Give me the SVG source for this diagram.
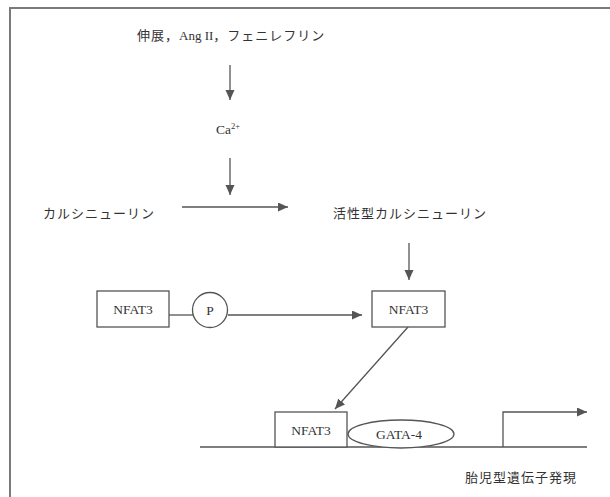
<svg xmlns="http://www.w3.org/2000/svg" width="610" height="497" viewBox="0 0 610 497">
<style>
.ln{stroke:#555;stroke-width:1.3;fill:none}
.box{stroke:#555;stroke-width:1.3;fill:#fff}
.jp{font-family:"Noto Sans CJK JP","Noto Sans",sans-serif;font-size:13px;fill:#333;letter-spacing:1px}
.sf{font-family:"Liberation Serif",serif;font-size:13.5px;fill:#333;letter-spacing:0}
.frame{stroke:#7a7a7a;stroke-width:2;fill:none}
</style>
<defs>
<marker id="ah" markerUnits="userSpaceOnUse" markerWidth="12" markerHeight="10" refX="10" refY="4.5" orient="auto">
<path d="M0,0 L10,4.5 L0,9 z" fill="#555"/>
</marker>
</defs>
<rect width="610" height="497" fill="#fff"/>
<path class="frame" d="M10,497 L10,8 L610,8"/>
<g id="connectors">
<line class="ln" x1="230" y1="65" x2="230" y2="100" marker-end="url(#ah)"/>
<line class="ln" x1="230" y1="158" x2="230" y2="195" marker-end="url(#ah)"/>
<line class="ln" x1="182" y1="207" x2="288" y2="207" marker-end="url(#ah)"/>
<line class="ln" x1="409" y1="243" x2="409" y2="280" marker-end="url(#ah)"/>
<line class="ln" x1="169" y1="315" x2="193" y2="315"/>
<line class="ln" x1="228" y1="315" x2="362" y2="315" marker-end="url(#ah)"/>
<line class="ln" x1="408" y1="327" x2="335" y2="409" marker-end="url(#ah)"/>
<line class="ln" x1="200" y1="447" x2="587" y2="447"/>
<polyline class="ln" points="503,447 503,412 587,412" marker-end="url(#ah)"/>
</g>
<g id="stimuli"><text class="jp" x="137" y="40">伸展，<tspan class="sf" style="font-size:13px">Ang II</tspan>，フェニレフリン</text></g>
<g id="ca"><text class="sf" x="216" y="134">Ca<tspan font-size="8.5" dy="-5">2+</tspan></text></g>
<g id="calcineurin"><text class="jp" x="43" y="218">カルシニューリン</text></g>
<g id="active-calcineurin"><text class="jp" x="333" y="218">活性型カルシニューリン</text></g>
<g id="nfat3-p"><rect class="box" x="97" y="291" width="72" height="36"/><text class="sf" x="133" y="314" text-anchor="middle">NFAT3</text></g>
<g id="p"><circle class="box" cx="210" cy="310" r="17.5"/><text class="sf" x="210" y="315" text-anchor="middle">P</text></g>
<g id="nfat3"><rect class="box" x="372" y="291" width="73" height="36"/><text class="sf" x="408.5" y="314" text-anchor="middle">NFAT3</text></g>
<g id="nfat3-dna"><rect class="box" x="275" y="412" width="72" height="35"/><text class="sf" x="311" y="435" text-anchor="middle">NFAT3</text></g>
<g id="gata4"><ellipse class="box" cx="401" cy="434" rx="53" ry="14"/><text class="sf" x="399" y="439" text-anchor="middle">GATA-4</text></g>
<g id="expression"><text class="jp" x="465" y="482">胎児型遺伝子発現</text></g>
</svg>
